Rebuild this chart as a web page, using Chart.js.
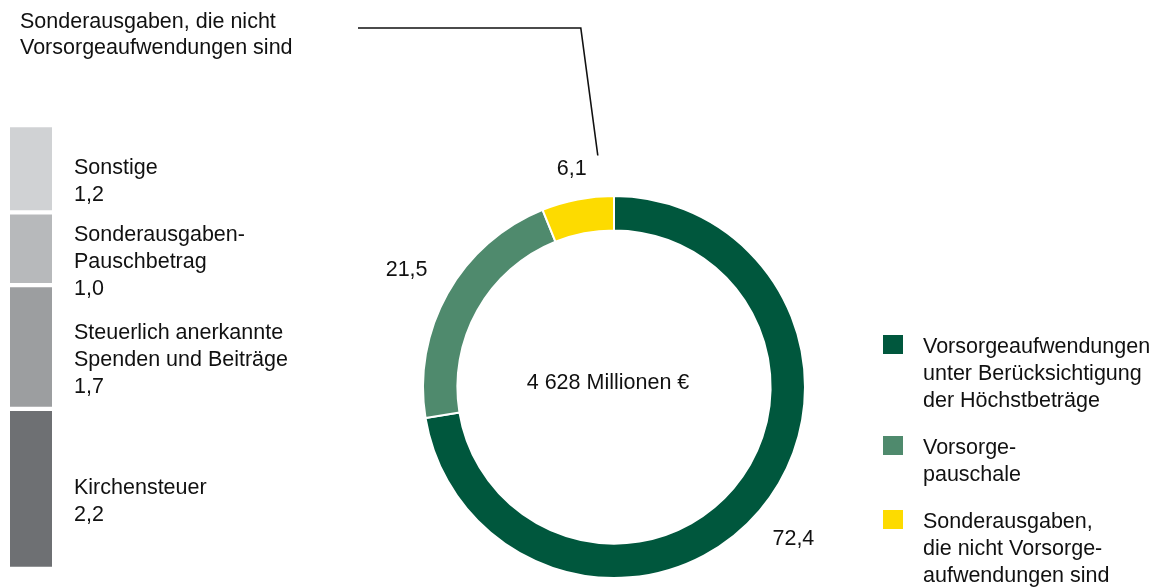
<!DOCTYPE html>
<html>
<head>
<meta charset="utf-8">
<script src="https://cdn.jsdelivr.net/npm/chart.js@4"></script>
<style>
  html, body { margin: 0; padding: 0; background: #fff; }
  #wrap { position: relative; width: 1156px; height: 587px; }
  #wrap canvas { position: absolute; left: 0; top: 0; }
</style>
</head>
<body>
<div id="wrap">
  <canvas id="ring-chart" width="1156" height="587"></canvas>
  <canvas id="bar-chart" width="330" height="587"></canvas>
</div>
<script>
// doughnut: shares in %
const ringLabels = [
  ['Vorsorgeaufwendungen', 'unter Berücksichtigung', 'der Höchstbeträge'],
  ['Vorsorge-', 'pauschale'],
  ['Sonderausgaben,', 'die nicht Vorsorge-', 'aufwendungen sind']
];
const ringValues = [72.4, 21.5, 6.1];
const ringColors = ['#00573D', '#4F8A6D', '#FDDB00'];
const totalText = '4 628 Millionen €';

// stacked bar: breakdown of the 6,1 (bottom to top)
const barTitle = ['Sonderausgaben, die nicht', 'Vorsorgeaufwendungen sind'];
const barLabels = [
  ['Kirchensteuer'],
  ['Steuerlich anerkannte', 'Spenden und Beiträge'],
  ['Sonderausgaben-', 'Pauschbetrag'],
  ['Sonstige']
];
const barValues = [2.2, 1.7, 1.0, 1.2];
const barColors = ['#6E7073', '#9C9EA0', '#B7B9BB', '#D0D2D4'];

const FONT = '21.5px "Liberation Sans", Arial, sans-serif';
const TEXT = '#111';
const LINE_H = 27;

function fmt(v) {
  return v.toFixed(1).replace('.', ',');
}

const ringText = {
  id: 'ringText',
  afterDraw: function(chart) {
    const ctx = chart.ctx;
    const meta = chart.getDatasetMeta(0);
    ctx.save();
    ctx.font = FONT;
    ctx.fillStyle = TEXT;
    ctx.textBaseline = 'middle';

    const c = meta.data[0];
    ctx.textAlign = 'center';
    ctx.fillText(totalText, c.x - 6, c.y - 4);

    // value labels around the ring
    let yellow = null;
    meta.data.forEach(function(arc, i) {
      const mid = (arc.startAngle + arc.endAngle) / 2;
      const r = arc.outerRadius + 26 + Math.abs(Math.cos(mid)) * 24;
      const x = arc.x + Math.cos(mid) * r;
      const y = arc.y + Math.sin(mid) * r;
      ctx.fillText(fmt(ringValues[i]), x, y);
      if (i === 2) yellow = { x: x, y: y };
    });

    // title of the bar on the left with leader line
    ctx.textAlign = 'left';
    barTitle.forEach(function(line, j) {
      ctx.fillText(line, 20, 22 + j * 26);
    });
    ctx.strokeStyle = '#111';
    ctx.lineWidth = 1.6;
    ctx.beginPath();
    ctx.moveTo(358, 28);
    ctx.lineTo(yellow.x + 9, 28);
    ctx.lineTo(yellow.x + 26, yellow.y - 14);
    ctx.stroke();

    // legend
    let y = 347;
    ringLabels.forEach(function(lines, i) {
      ctx.fillStyle = ringColors[i];
      ctx.fillRect(883, y - 12, 20, 19);
      ctx.fillStyle = TEXT;
      lines.forEach(function(line, j) {
        ctx.fillText(line, 923, y + j * LINE_H);
      });
      y += (lines.length - 1) * LINE_H + 47;
    });
    ctx.restore();
  }
};

const barText = {
  id: 'barText',
  afterDatasetsDraw: function(chart) {
    const ctx = chart.ctx;
    ctx.save();
    ctx.font = FONT;
    ctx.fillStyle = TEXT;
    ctx.textBaseline = 'middle';
    ctx.textAlign = 'left';
    const x = chart.chartArea.right + 22;
    chart.data.datasets.forEach(function(ds, i) {
      const el = chart.getDatasetMeta(i).data[0];
      const lines = barLabels[i].concat([fmt(barValues[i])]);
      const center = (el.y + el.base) / 2 + 13;
      const start = center - (lines.length - 1) * LINE_H / 2;
      lines.forEach(function(line, j) {
        ctx.fillText(line, x, start + j * LINE_H);
      });
    });
    ctx.restore();
  }
};

new Chart(document.getElementById('ring-chart'), {
  type: 'doughnut',
  data: {
    labels: ringLabels.map(function(l) { return l.join(' '); }),
    datasets: [{
      data: ringValues,
      backgroundColor: ringColors,
      borderColor: '#ffffff',
      borderWidth: 2
    }]
  },
  options: {
    responsive: false,
    animation: false,
    cutout: '82%',
    layout: { padding: { left: 422, right: 350, top: 195, bottom: 8 } },
    plugins: {
      legend: { display: false },
      tooltip: { enabled: false }
    }
  },
  plugins: [ringText]
});

new Chart(document.getElementById('bar-chart'), {
  type: 'bar',
  data: {
    labels: ['Sonderausgaben'],
    datasets: barValues.map(function(v, i) {
      return {
        label: barLabels[i].join(' '),
        data: [v],
        backgroundColor: barColors[i],
        borderColor: '#ffffff',
        borderWidth: { top: 2.5, bottom: 2.5, left: 0, right: 0 },
        borderSkipped: false,
        barPercentage: 1,
        categoryPercentage: 1
      };
    })
  },
  options: {
    responsive: false,
    animation: false,
    layout: { padding: { left: 10, right: 278, top: 125, bottom: 18 } },
    scales: {
      x: { stacked: true, display: false },
      y: { stacked: true, display: false, min: 0, max: 6.1 }
    },
    plugins: {
      legend: { display: false },
      tooltip: { enabled: false }
    }
  },
  plugins: [barText]
});
</script>
</body>
</html>
